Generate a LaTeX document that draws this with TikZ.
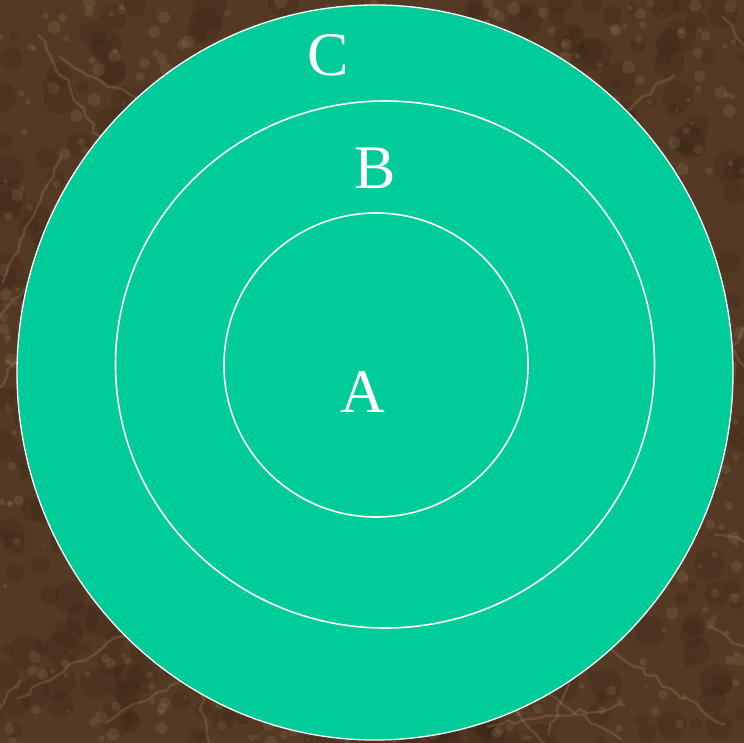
\documentclass[tikz,border=0pt]{standalone}
\usepackage{fontspec}
\newfontfamily\labfont{Liberation Serif}
\usetikzlibrary{decorations.pathmorphing}
\definecolor{marble}{RGB}{84,58,36}
\definecolor{marbledark}{RGB}{50,32,18}
\definecolor{marblevein}{RGB}{170,140,104}
\definecolor{ringgreen}{RGB}{0,204,153}
\tikzset{
  ring/.style={draw=white,line width=1.6pt},
  ringlabel/.style={text=white,font=\labfont\fontsize{62}{62}\selectfont,inner sep=0pt},
}
\begin{document}
\begin{tikzpicture}[x=1pt,y=-1pt]
  \useasboundingbox (0,0) rectangle (744,743);
  % marble background
  \fill[marble] (0,0) rectangle (744,743);
  \pgfmathsetseed{7}
  \begin{scope}
    \clip (0,0) rectangle (744,743);
    \foreach \i in {1,...,700}{
      \pgfmathsetmacro{\px}{rnd*744}
      \pgfmathsetmacro{\py}{rnd*743}
      \pgfmathsetmacro{\pr}{4+rnd*14}
      \fill[marbledark,opacity=0.22] (\px,\py) circle (\pr);
    }
    \foreach \i in {1,...,900}{
      \pgfmathsetmacro{\px}{rnd*744}
      \pgfmathsetmacro{\py}{rnd*743}
      \pgfmathsetmacro{\pr}{1.5+rnd*5}
      \fill[marblevein,opacity=0.18] (\px,\py) circle (\pr);
    }
    \foreach \i in {1,...,45}{
      \pgfmathsetmacro{\px}{rnd*744}
      \pgfmathsetmacro{\py}{rnd*743}
      \pgfmathsetmacro{\pa}{rnd*180}
      \draw[marblevein,opacity=0.25,line width=2.5pt,
        decorate,decoration={random steps,segment length=8pt,amplitude=3pt}]
        (\px,\py) -- ++(\pa:140);
    }
  \end{scope}
  % rings
  \filldraw[fill=ringgreen,ring,line width=1.3pt] (375,372.5) ellipse (358 and 367.5);
  \draw[ring] (385,364.5) ellipse (269.5 and 263.5);
  \draw[ring] (376,365) circle (152);
  % labels
  \node[ringlabel] (labC) at (328,55) {C};
  \node[ringlabel] (labB) at (375,168) {B};
  \node[ringlabel] (labA) at (363,392) {A};
\end{tikzpicture}
\end{document}
